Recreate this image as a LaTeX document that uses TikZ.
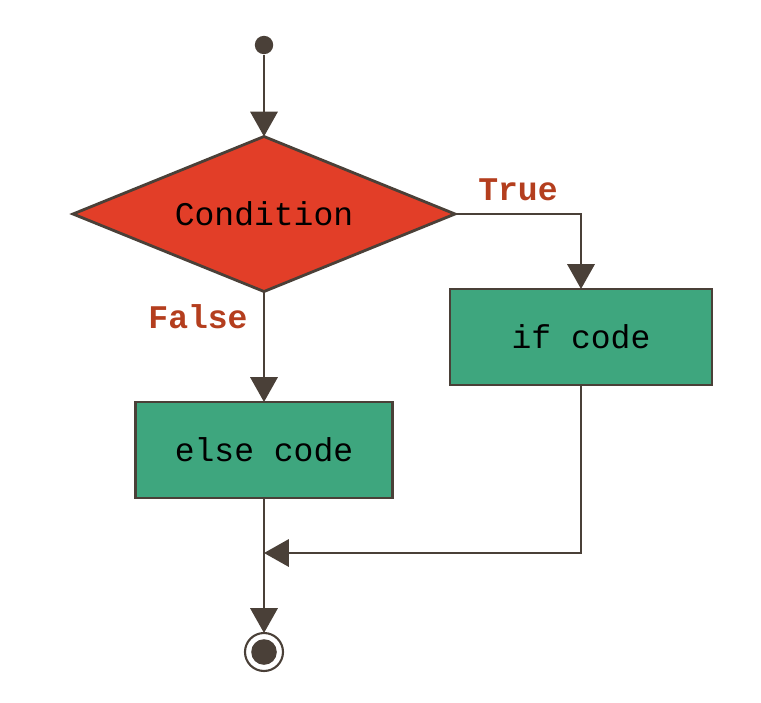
\documentclass[tikz,border=0pt]{standalone}
\usepackage{fontspec}
\setmonofont{Liberation Mono}
\usetikzlibrary{shapes.geometric, arrows.meta, positioning}

\definecolor{lineclr}{RGB}{74,64,56}
\definecolor{condred}{RGB}{226,62,40}
\definecolor{codegreen}{RGB}{62,166,126}
\definecolor{labelclr}{RGB}{180,62,30}

\begin{document}
\begin{tikzpicture}[>={Triangle[width=0.68cm,length=0.62cm]}, line width=1.4pt, draw=lineclr]
\tikzstyle{flowline}=[draw=lineclr, line width=1.8pt]
\tikzstyle{decision}=[diamond, draw=lineclr, fill=condred, line width=2pt, aspect=2.46, minimum width=9.55cm, minimum height=3.875cm, inner sep=0pt, outer sep=0pt]
\tikzstyle{codebox}=[rectangle, draw=lineclr, fill=codegreen, line width=2pt, minimum height=2.4cm, inner sep=0pt, outer sep=0pt]
\tikzstyle{branch}=[text=labelclr, font=\ttfamily\bfseries\fontsize{23.5}{28}\selectfont]
\useasboundingbox (0,0) rectangle (19.025,-17.55);

\node (start) [circle, fill=lineclr, minimum size=0.46cm, inner sep=0pt] at (6.6,-1.125) {};
\node (cond) [decision, font=\ttfamily\fontsize{23.5}{28}\selectfont] at (6.6,-5.35) {Condition};
\node (ifc) [codebox, minimum width=6.55cm, font=\ttfamily\fontsize{23.5}{28}\selectfont] at (14.525,-8.425) {if code};
\node (elsec) [codebox, minimum width=6.425cm, font=\ttfamily\fontsize{23.5}{28}\selectfont] at (6.6,-11.25) {else code};
\coordinate (join) at (6.6,-13.825);
\node (stop) [circle, draw=lineclr, line width=1.5pt, minimum size=0.95cm, inner sep=0pt, outer sep=0pt] at (6.6,-16.3) {};
\fill [lineclr] (stop.center) circle [radius=0.32cm];

\node (truelbl) [branch] at (12.95,-4.75) {True};
\node (falselbl) [branch] at (4.95,-7.925) {False};

\draw [flowline, ->] (start) -- (cond.north);
\draw [flowline, ->] (cond.east) -| (ifc.north);
\draw [flowline, ->] (cond.south) -- (elsec.north);
\draw [flowline, ->] (ifc.south) |- (join);
\draw [flowline, ->] (elsec.south) -- (stop.north);

\end{tikzpicture}
\end{document}
